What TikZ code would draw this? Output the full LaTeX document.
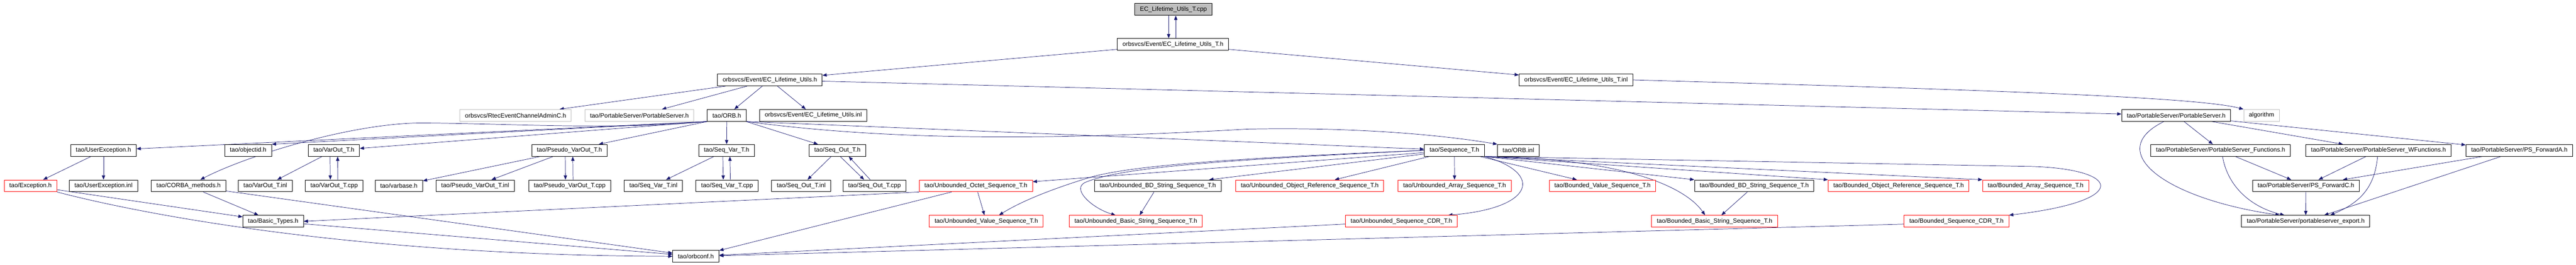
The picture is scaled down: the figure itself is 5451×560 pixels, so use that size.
\documentclass[tikz,border=0pt]{standalone}
\usepackage{fontspec}
\setmainfont{Liberation Sans}
\usepackage{tikz}
\usetikzlibrary{arrows.meta,backgrounds}

\definecolor{edgeblue}{HTML}{191970}
\definecolor{boxgray}{HTML}{BFBFBF}

\tikzset{
    hdr/.style={draw=black, fill=white, line width=1pt, minimum height=25pt,
                inner xsep=11pt, inner ysep=0pt, font=\fontsize{13}{15}\selectfont},
    hdrred/.style={hdr, draw=red},
    hdrgray/.style={hdr, draw=boxgray},
    hdrroot/.style={hdr, fill=boxgray},
    dep/.style={-{Triangle[length=9pt,width=7pt]}, draw=edgeblue, line width=0.8pt}
}

\begin{document}
\begin{tikzpicture}[x=1pt,y=-1pt]%,>=latex]
                \useasboundingbox (0,0) rectangle (5451,560);

                % top of the graph
                \node[hdrroot] (cpp) at (2483,20) {EC\_Lifetime\_Utils\_T.cpp};
                \node[hdr] (ecth) at (2482,94) {orbsvcs/Event/EC\_Lifetime\_Utils\_T.h};
                \node[hdr] (ech) at (1629,169) {orbsvcs/Event/EC\_Lifetime\_Utils.h};
                \node[hdr] (ectinl) at (3335,169) {orbsvcs/Event/EC\_Lifetime\_Utils\_T.inl};

                \node[hdrgray] (rtec) at (1091,244) {orbsvcs/RtecEventChannelAdminC.h};
                \node[hdrgray] (psgray) at (1353,244) {tao/PortableServer/PortableServer.h};
                \node[hdr] (orbh) at (1538,244) {tao/ORB.h};
                \node[hdr] (ecinl) at (1721,244) {orbsvcs/Event/EC\_Lifetime\_Utils.inl};
                \node[hdr] (ps) at (4605,244) {tao/PortableServer/PortableServer.h};
                \node[hdrgray] (algo) at (4785.5,244) {algorithm};

                \node[hdr] (uexh) at (219,318) {tao/UserException.h};
                \node[hdr] (objid) at (525,318) {tao/objectid.h};
                \node[hdr] (varouth) at (706.5,318) {tao/VarOut\_T.h};
                \node[hdr] (pvarouth) at (1205,318) {tao/Pseudo\_VarOut\_T.h};
                \node[hdr] (seqvarh) at (1537.5,318) {tao/Seq\_Var\_T.h};
                \node[hdr] (seqouth) at (1772,318) {tao/Seq\_Out\_T.h};
                \node[hdr] (seqt) at (3077.5,318) {tao/Sequence\_T.h};
                \node[hdr] (orbinl) at (3213,318) {tao/ORB.inl};
                \node[hdr] (psfun) at (4699,318) {tao/PortableServer/PortableServer\_Functions.h};
                \node[hdr] (pswfun) at (5033,318) {tao/PortableServer/PortableServer\_WFunctions.h};
                \node[hdr] (psfwda) at (5331,318) {tao/PortableServer/PS\_ForwardA.h};

                \node[hdrred] (exch) at (64.5,393) {tao/Exception.h};
                \node[hdr] (uexinl) at (219,393) {tao/UserException.inl};
                \node[hdr] (corba) at (399,393) {tao/CORBA\_methods.h};
                \node[hdr] (varoutinl) at (561.5,393) {tao/VarOut\_T.inl};
                \node[hdr] (varoutcpp) at (707,393) {tao/VarOut\_T.cpp};
                \node[hdr] (varbase) at (844,393) {tao/varbase.h};
                \node[hdr] (pvaroutinl) at (1005.5,393) {tao/Pseudo\_VarOut\_T.inl};
                \node[hdr] (pvaroutcpp) at (1205.5,393) {tao/Pseudo\_VarOut\_T.cpp};
                \node[hdr] (seqvarinl) at (1382.5,393) {tao/Seq\_Var\_T.inl};
                \node[hdr] (seqvarcpp) at (1538.5,393) {tao/Seq\_Var\_T.cpp};
                \node[hdr] (seqoutinl) at (1695.5,393) {tao/Seq\_Out\_T.inl};
                \node[hdr] (seqoutcpp) at (1850.5,393) {tao/Seq\_Out\_T.cpp};
                \node[hdrred] (uoctet) at (2065,393) {tao/Unbounded\_Octet\_Sequence\_T.h};
                \node[hdr] (ubd) at (2450,393) {tao/Unbounded\_BD\_String\_Sequence\_T.h};
                \node[hdrred] (uobj) at (2771.5,393) {tao/Unbounded\_Object\_Reference\_Sequence\_T.h};
                \node[hdrred] (uarr) at (3078,393) {tao/Unbounded\_Array\_Sequence\_T.h};
                \node[hdrred] (bval) at (3391,393) {tao/Bounded\_Value\_Sequence\_T.h};
                \node[hdr] (bbd) at (3712,393) {tao/Bounded\_BD\_String\_Sequence\_T.h};
                \node[hdrred] (bobj) at (4017.5,393) {tao/Bounded\_Object\_Reference\_Sequence\_T.h};
                \node[hdrred] (barr) at (4307.5,393) {tao/Bounded\_Array\_Sequence\_T.h};
                \node[hdr] (psfwdc) at (4879.5,393) {tao/PortableServer/PS\_ForwardC.h};

                \node[hdr] (basic) at (578,468) {tao/Basic\_Types.h};
                \node[hdrred] (uval) at (2087,468) {tao/Unbounded\_Value\_Sequence\_T.h};
                \node[hdrred] (ubasic) at (2403.5,468) {tao/Unbounded\_Basic\_String\_Sequence\_T.h};
                \node[hdrred] (ucdr) at (2965.5,468) {tao/Unbounded\_Sequence\_CDR\_T.h};
                \node[hdrred] (bbasic) at (3628,468) {tao/Bounded\_Basic\_String\_Sequence\_T.h};
                \node[hdrred] (bcdr) at (4140,468) {tao/Bounded\_Sequence\_CDR\_T.h};
                \node[hdr] (psexp) at (4879,468) {tao/PortableServer/portableserver\_export.h};

                \node[hdr] (orbconf) at (1472.5,542) {tao/orbconf.h};

                \begin{scope}[on background layer]
                % lifetime utils
                \draw[dep] ([xshift=-10pt]cpp.south) -- ([xshift=-9pt]ecth.north);
                \draw[dep] ([xshift=6pt]ecth.north) -- ([xshift=5pt]cpp.south);
                \draw[dep] (ecth) -- (ech);
                \draw[dep] (ecth) -- (ectinl);
                \draw[dep] (ectinl.east) .. controls (4200,190) and (4650,205) .. (algo.north west);
                \draw[dep] (ech) -- (ps);
                \draw[dep] (ech) -- (rtec);
                \draw[dep] (ech) -- (psgray);
                \draw[dep] (ech) -- (orbh);
                \draw[dep] (ech) -- (ecinl);

                % ORB.h
                \draw[dep] (orbh.south west) -- (uexh);
                \draw[dep] (orbh.south west) -- (objid.north east);
                \draw[dep] (orbh.south west) -- (varouth);
                \draw[dep] (orbh.south west) -- (pvarouth);
                \draw[dep] (orbh.south west) .. controls (1300,275) and (1100,262) .. (900,260)
                                             .. controls (750,258) and (520,330) .. (corba);
                \draw[dep] (orbh) -- (seqvarh);
                \draw[dep] (orbh) -- (seqouth);
                \draw[dep] (orbh.south east) -- (seqt);
                \draw[dep] (orbh.south east) .. controls (1900,300) and (2250,295) .. (2640,273)
                                             .. controls (2900,268) and (3080,290) .. (orbinl.north west);

                \draw[dep] (uexh) -- (exch);
                \draw[dep] (uexh) -- (uexinl);
                \draw[dep] (varouth) -- (varoutinl);
                \draw[dep] ([xshift=-8pt]varouth.south) -- ([xshift=-8pt]varoutcpp.north);
                \draw[dep] ([xshift=8pt]varoutcpp.north) -- ([xshift=8pt]varouth.south);
                \draw[dep] (pvarouth) -- (varbase);
                \draw[dep] (pvarouth) -- (pvaroutinl);
                \draw[dep] ([xshift=-9pt]pvarouth.south) -- ([xshift=-9pt]pvaroutcpp.north);
                \draw[dep] ([xshift=7pt]pvaroutcpp.north) -- ([xshift=7pt]pvarouth.south);
                \draw[dep] (seqvarh) -- (seqvarinl);
                \draw[dep] ([xshift=-8pt]seqvarh.south) -- ([xshift=-8pt]seqvarcpp.north);
                \draw[dep] ([xshift=7pt]seqvarcpp.north) -- ([xshift=7pt]seqvarh.south);
                \draw[dep] (seqouth) -- (seqoutinl);
                \draw[dep] ([xshift=6pt]seqouth.south) -- ([xshift=-22pt]seqoutcpp.north);
                \draw[dep] ([xshift=-9pt]seqoutcpp.north) -- ([xshift=24pt]seqouth.south);

                % Sequence_T.h
                \draw[dep] (seqt) -- (uoctet);
                \draw[dep] (seqt.west) .. controls (2600,335) and (2400,350) .. (2310,374)
                                       .. controls (2250,392) and (2170,420) .. ([xshift=27pt]uval.north);
                \draw[dep] (seqt.west) .. controls (2600,338) and (2380,352) .. (2298,385)
                                       .. controls (2265,398) and (2310,440) .. ([xshift=-43pt]ubasic.north);
                \draw[dep] (seqt) -- (ubd);
                \draw[dep] (seqt) -- (uobj);
                \draw[dep] (seqt) -- (uarr);
                \draw[dep] (seqt.south east) .. controls (3265,365) and (3250,440) .. ([xshift=-20pt]ucdr.north east);
                \draw[dep] (seqt) -- (bval);
                \draw[dep] (seqt.south east) -- (bbd.north west);
                \draw[dep] (seqt.south east) .. controls (3450,335) and (3570,400) .. ([xshift=-20pt]bbasic.north);
                \draw[dep] (seqt.south east) -- (bobj.north west);
                \draw[dep] (seqt.south east) -- (barr.north west);
                \draw[dep] (seqt.south east) -- (4300,352) .. controls (4490,358) and (4510,425) .. (bcdr.north east);

                \draw[dep] (uoctet) -- (uval);
                \draw[dep] (uoctet.south west) -- (basic.east);
                \draw[dep] (uoctet) -- (orbconf);
                \draw[dep] (ubd) -- (ubasic);
                \draw[dep] (bbd) -- (bbasic);

                % down to orbconf.h
                \draw[dep] (exch) -- (basic);
                \draw[dep] (exch.south east) .. controls (250,440) and (700,540) .. (orbconf.west);
                \draw[dep] (corba) -- (basic);
                \draw[dep] (corba) -- (orbconf);
                \draw[dep] (basic) -- (orbconf);
                \draw[dep] (ucdr) -- (orbconf);
                \draw[dep] ([yshift=-6pt]bcdr.west) -- (orbconf);

                % PortableServer
                \draw[dep] (ps) -- (psfun);
                \draw[dep] (ps) -- (pswfun);
                \draw[dep] (ps) -- (psfwda);
                \draw[dep] ([xshift=-26pt]ps.south) .. controls (4450,320) and (4580,420) .. ([xshift=-55pt]psexp.north);
                \draw[dep] (psfun) -- (psfwdc);
                \draw[dep] ([xshift=4pt]psfun.south) .. controls (4715,400) and (4770,440) .. ([xshift=-45pt]psexp.north);
                \draw[dep] (pswfun) -- (psfwdc);
                \draw[dep] ([xshift=-2pt]pswfun.south) .. controls (5025,400) and (4990,430) .. ([xshift=52pt]psexp.north);
                \draw[dep] (psfwda) -- (psfwdc);
                \draw[dep] (psfwda) -- (psexp);
                \draw[dep] (psfwdc) -- (psexp);
                \end{scope}
\end{tikzpicture}
\end{document}
